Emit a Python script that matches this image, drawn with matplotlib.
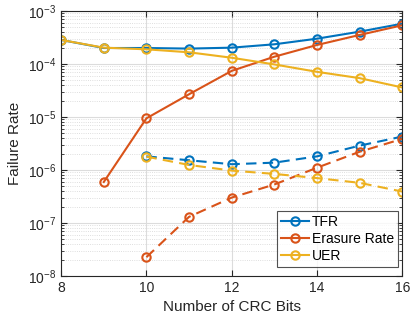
import matplotlib
matplotlib.use("Agg")
import matplotlib.pyplot as plt
from matplotlib.ticker import LogLocator, FixedLocator, NullFormatter

plt.rcParams['font.family'] = ['Liberation Sans', 'DejaVu Sans']
plt.rcParams['mathtext.fontset'] = 'custom'
plt.rcParams['mathtext.rm'] = 'Liberation Sans'
plt.rcParams['mathtext.it'] = 'Liberation Sans'

x_solid = [8, 9, 10, 11, 12, 13, 14, 15, 16]
tfr_solid = [2.84e-4, 2.0e-4, 2.0e-4, 1.95e-4, 2.03e-4, 2.35e-4, 3.0e-4, 4.07e-4, 5.76e-4]
uer_solid = [2.84e-4, 2.03e-4, 1.89e-4, 1.66e-4, 1.31e-4, 9.8e-5, 7.1e-5, 5.4e-5, 3.6e-5]
x_er_solid = [9, 10, 11, 12, 13, 14, 15, 16]
er_solid = [5.9e-7, 9.4e-6, 2.68e-5, 7.4e-5, 1.37e-4, 2.28e-4, 3.53e-4, 5.37e-4]

x_dash = [10, 11, 12, 13, 14, 15, 16]
tfr_dash = [1.8e-6, 1.52e-6, 1.28e-6, 1.37e-6, 1.8e-6, 2.87e-6, 4.26e-6]
er_dash = [2.25e-8, 1.3e-7, 3.0e-7, 5.3e-7, 1.1e-6, 2.2e-6, 3.85e-6]
uer_dash = [1.78e-6, 1.24e-6, 9.7e-7, 8.4e-7, 7.0e-7, 5.7e-7, 3.9e-7]

labels = ['TFR', 'Erasure Rate', 'UER']
colors = ['#0072BD', '#D95319', '#EDB120']

fig = plt.figure(figsize=(4.13, 3.23), dpi=100)
ax = fig.add_axes([0.148, 0.146, 0.826, 0.820])

kw = dict(marker='o', markerfacecolor='none', markersize=6, markeredgewidth=1.5, linewidth=1.5)
ax.plot(x_solid, tfr_solid, color=colors[0], label=labels[0], **kw)
ax.plot(x_er_solid, er_solid, color=colors[1], label=labels[1], **kw)
ax.plot(x_solid, uer_solid, color=colors[2], label=labels[2], **kw)
ax.plot(x_dash, tfr_dash, color=colors[0], linestyle=(0, (5, 3)), **kw)
ax.plot(x_dash, er_dash, color=colors[1], linestyle=(0, (5, 3)), **kw)
ax.plot(x_dash, uer_dash, color=colors[2], linestyle=(0, (5, 3)), **kw)

ax.set_yscale('log')
ax.set_xlim(8, 16)
ax.set_ylim(1e-8, 1e-3)
ax.xaxis.set_major_locator(FixedLocator([8, 10, 12, 14, 16]))
ax.yaxis.set_major_locator(LogLocator(base=10, numticks=10))
ax.yaxis.set_minor_locator(LogLocator(base=10, subs=range(2, 10), numticks=20))
ax.yaxis.set_minor_formatter(NullFormatter())

ax.grid(True, which='major', color='#dcdcdc', linewidth=0.8)
ax.grid(True, which='minor', axis='y', color='#d4d4d4', linestyle=':', linewidth=0.6)
ax.set_axisbelow(True)

ax.tick_params(which='both', direction='in', top=True, right=True, labelsize=10, colors='#262626')
ax.tick_params(which='major', length=4)
ax.tick_params(which='minor', length=2)
for s in ax.spines.values():
    s.set_color('#262626')
    s.set_linewidth(0.8)

ax.set_xlabel('Number of CRC Bits', fontsize=11, color='#262626')
ax.set_ylabel('Failure Rate', fontsize=11, color='#262626')

leg = ax.legend(loc='lower right', bbox_to_anchor=(0.988, 0.034), borderaxespad=0,
                fontsize=10, frameon=True, fancybox=False, edgecolor='#262626',
                handlelength=2.0, handletextpad=0.2, borderpad=0.3, labelspacing=0.2)
leg.get_frame().set_linewidth(0.8)

fig.savefig('out.png', dpi=100)
